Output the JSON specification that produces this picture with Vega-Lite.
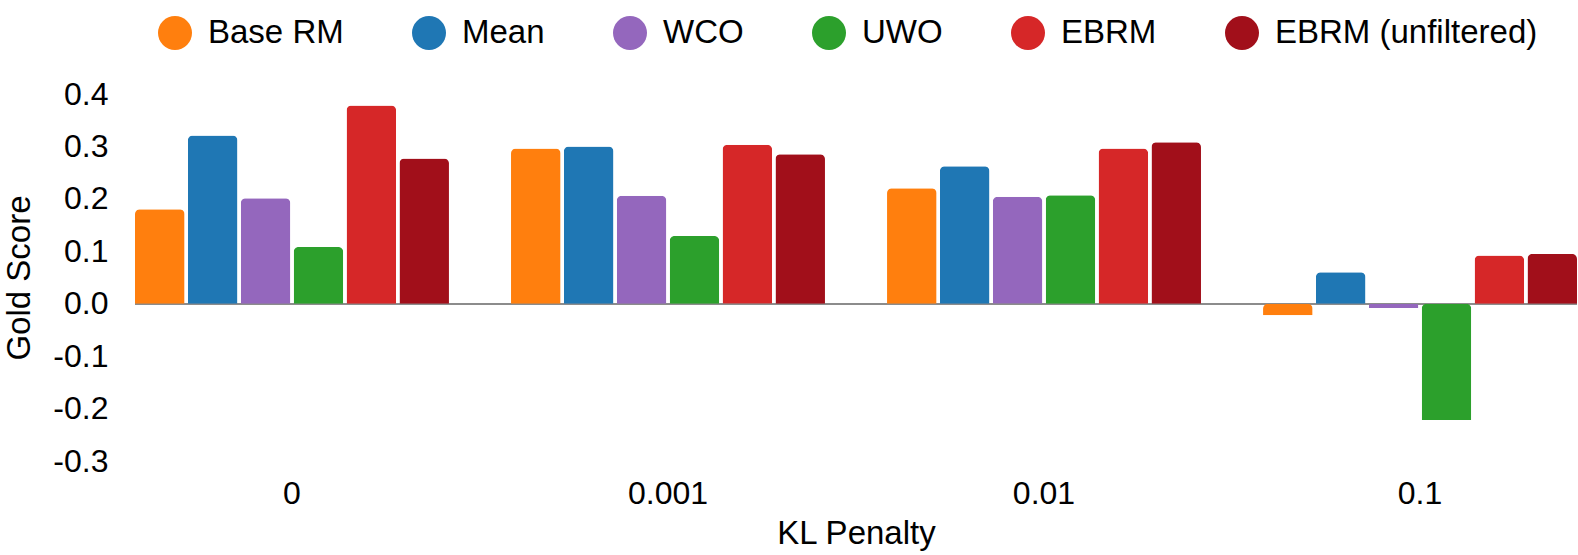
{
  "$schema": "https://vega.github.io/schema/vega-lite/v6.json",
  "width": 1442,
  "height": 367,
  "autosize": {"type": "none"},
  "padding": {"left": 135, "top": 94, "right": 1, "bottom": 94},
  "config": {
    "view": {"stroke": null},
    "font": "Liberation Sans",
    "axis": {"labelColor": "black", "titleColor": "black", "titleFontWeight": "normal"}
  },
  "data": {
    "values": [
      {"kl": "0", "method": "Base RM", "score": 0.180},
      {"kl": "0", "method": "Mean", "score": 0.321},
      {"kl": "0", "method": "WCO", "score": 0.201},
      {"kl": "0", "method": "UWO", "score": 0.108},
      {"kl": "0", "method": "EBRM", "score": 0.378},
      {"kl": "0", "method": "EBRM (unfiltered)", "score": 0.277},
      {"kl": "0.001", "method": "Base RM", "score": 0.296},
      {"kl": "0.001", "method": "Mean", "score": 0.300},
      {"kl": "0.001", "method": "WCO", "score": 0.206},
      {"kl": "0.001", "method": "UWO", "score": 0.129},
      {"kl": "0.001", "method": "EBRM", "score": 0.303},
      {"kl": "0.001", "method": "EBRM (unfiltered)", "score": 0.285},
      {"kl": "0.01", "method": "Base RM", "score": 0.220},
      {"kl": "0.01", "method": "Mean", "score": 0.262},
      {"kl": "0.01", "method": "WCO", "score": 0.204},
      {"kl": "0.01", "method": "UWO", "score": 0.207},
      {"kl": "0.01", "method": "EBRM", "score": 0.296},
      {"kl": "0.01", "method": "EBRM (unfiltered)", "score": 0.308},
      {"kl": "0.1", "method": "Base RM", "score": -0.022},
      {"kl": "0.1", "method": "Mean", "score": 0.060},
      {"kl": "0.1", "method": "WCO", "score": -0.008},
      {"kl": "0.1", "method": "UWO", "score": -0.222},
      {"kl": "0.1", "method": "EBRM", "score": 0.092},
      {"kl": "0.1", "method": "EBRM (unfiltered)", "score": 0.095}
    ]
  },
  "layer": [
    {
      "mark": {"type": "rule", "color": "#8c8c8c", "strokeWidth": 1.5},
      "encoding": {"y": {"datum": 0, "type": "quantitative"}}
    },
    {
      "mark": {"type": "bar", "cornerRadiusEnd": 5},
      "encoding": {
        "x": {
          "field": "kl",
          "type": "nominal",
          "sort": ["0", "0.001", "0.01", "0.1"],
          "scale": {"paddingInner": 0.165, "paddingOuter": 0},
          "axis": {
            "title": "KL Penalty",
            "labelAngle": 0,
            "labelFontSize": 32,
            "titleFontSize": 33,
            "labelPadding": 17,
            "titlePadding": 8,
            "ticks": false,
            "domain": false
          }
        },
        "xOffset": {
          "field": "method",
          "type": "nominal",
          "sort": ["Base RM", "Mean", "WCO", "UWO", "EBRM", "EBRM (unfiltered)"],
          "scale": {"paddingInner": 0.063, "paddingOuter": 0}
        },
        "y": {
          "field": "score",
          "type": "quantitative",
          "scale": {"domain": [-0.3, 0.4], "nice": false},
          "axis": {
            "title": "Gold Score",
            "values": [-0.3, -0.2, -0.1, 0, 0.1, 0.2, 0.3, 0.4],
            "format": ".1f",
            "labelExpr": "replace(datum.label, '\u2212', '-')",
            "labelFontSize": 32,
            "titleFontSize": 33,
            "labelPadding": 27,
            "titlePadding": 16,
            "ticks": false,
            "domain": false,
            "gridColor": "#dadada",
            "gridWidth": 1
          }
        },
        "color": {
          "field": "method",
          "type": "nominal",
          "sort": ["Base RM", "Mean", "WCO", "UWO", "EBRM", "EBRM (unfiltered)"],
          "scale": {
            "domain": ["Base RM", "Mean", "WCO", "UWO", "EBRM", "EBRM (unfiltered)"],
            "range": ["#ff7f0e", "#1f77b4", "#9467bd", "#2ca02c", "#d62728", "#a10f1a"]
          },
          "legend": {
            "title": null,
            "orient": "none",
            "direction": "horizontal",
            "legendX": 23,
            "legendY": -78,
            "padding": 0,
            "symbolType": "circle",
            "symbolSize": 1156,
            "symbolStrokeWidth": 0,
            "symbolOpacity": 1,
            "labelFontSize": 33,
            "labelColor": "black",
            "labelOffset": 16,
            "columnPadding": 68,
            "labelLimit": 400
          }
        }
      }
    }
  ]
}
